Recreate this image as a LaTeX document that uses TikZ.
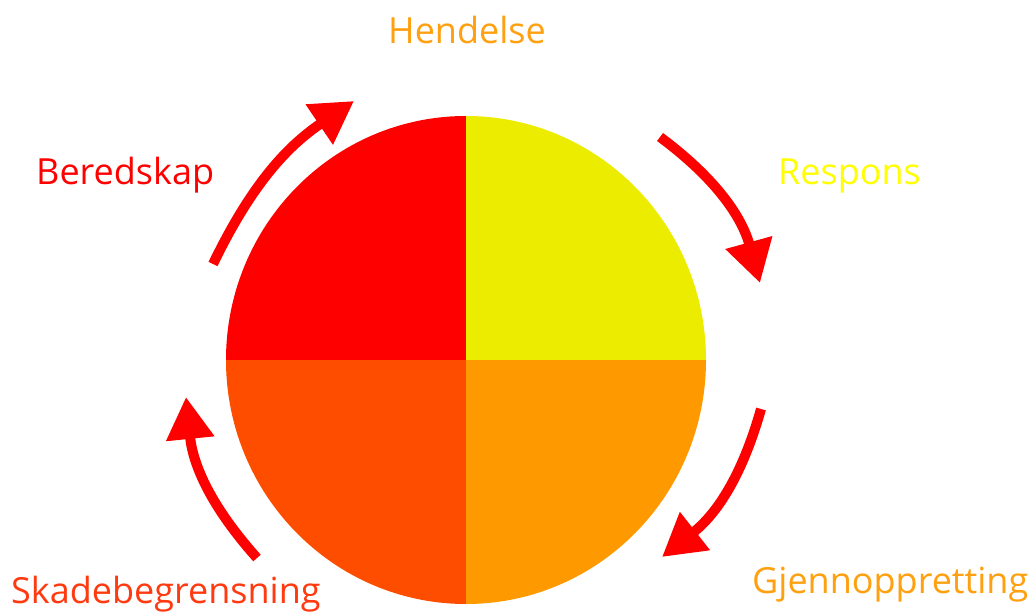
\documentclass[tikz,border=0pt]{standalone}
\usepackage{fontspec}
\setmainfont{Open Sans}
\usetikzlibrary{arrows.meta}
\definecolor{qred}{HTML}{FF0000}
\definecolor{qyellow}{HTML}{ECEC00}
\definecolor{qorange}{HTML}{FF9900}
\definecolor{qscarlet}{HTML}{FF4D00}
\definecolor{lblorange}{HTML}{FFA010}
\definecolor{lblscarlet}{HTML}{FF3A10}
\definecolor{lblyellow}{HTML}{FFFF00}
\tikzset{
  label text/.style={inner sep=0pt, font=\fontsize{36}{40}\selectfont},
  cycle arrow/.style={draw=qred, line width=10pt,
    -{Triangle[length=42pt, width=46pt]}},
}
\begin{document}
\begin{tikzpicture}[x=1pt, y=-1pt]
  \useasboundingbox (0,0) rectangle (1033,612);
  % centre of the wheel
  \coordinate (c) at (466,360);
  % four quadrants
  \fill[qred]     (c) -- ++(0,-244) arc[start angle=90,  end angle=180, x radius=240, y radius=-244] -- cycle;
  \fill[qyellow]  (c) -- ++(240,0)  arc[start angle=0,   end angle=90,  x radius=240, y radius=-244] -- cycle;
  \fill[qscarlet] (c) -- ++(-240,0) arc[start angle=180, end angle=270, x radius=240, y radius=-244] -- cycle;
  \fill[qorange]  (c) -- ++(0,244)  arc[start angle=270, end angle=360, x radius=240, y radius=-244] -- cycle;
  % phase labels
  \node[label text, text=lblorange, anchor=base] (hend) at (467,44) {Hendelse};
  \node[label text, text=qred, anchor=base west] (bered) at (36,185) {Beredskap};
  \node[label text, text=lblyellow, anchor=base west] (resp) at (778,185) {Respons};
  \node[label text, text=lblscarlet, anchor=base west] (skade) at (11,603) {Skadebegrensning};
  \node[label text, text=lblorange, anchor=base west] (gjen) at (752,593) {Gjennoppretting};
  % curved arrows around the wheel
  \coordinate (a1s) at (213,264);  \coordinate (a1e) at (354,101);
  \coordinate (a2s) at (660,137);  \coordinate (a2e) at (760,283);
  \coordinate (a3s) at (761,409);  \coordinate (a3e) at (662,557);
  \coordinate (a4s) at (257,558);  \coordinate (a4e) at (186,397);
  \draw[cycle arrow] (a1s) to[bend left=15] (a1e);
  \draw[cycle arrow] (a2s) to[bend left=19] (a2e);
  \draw[cycle arrow] (a3s) to[bend left=18] (a3e);
  \draw[cycle arrow] (a4s) to[bend left=18] (a4e);
\end{tikzpicture}
\end{document}
